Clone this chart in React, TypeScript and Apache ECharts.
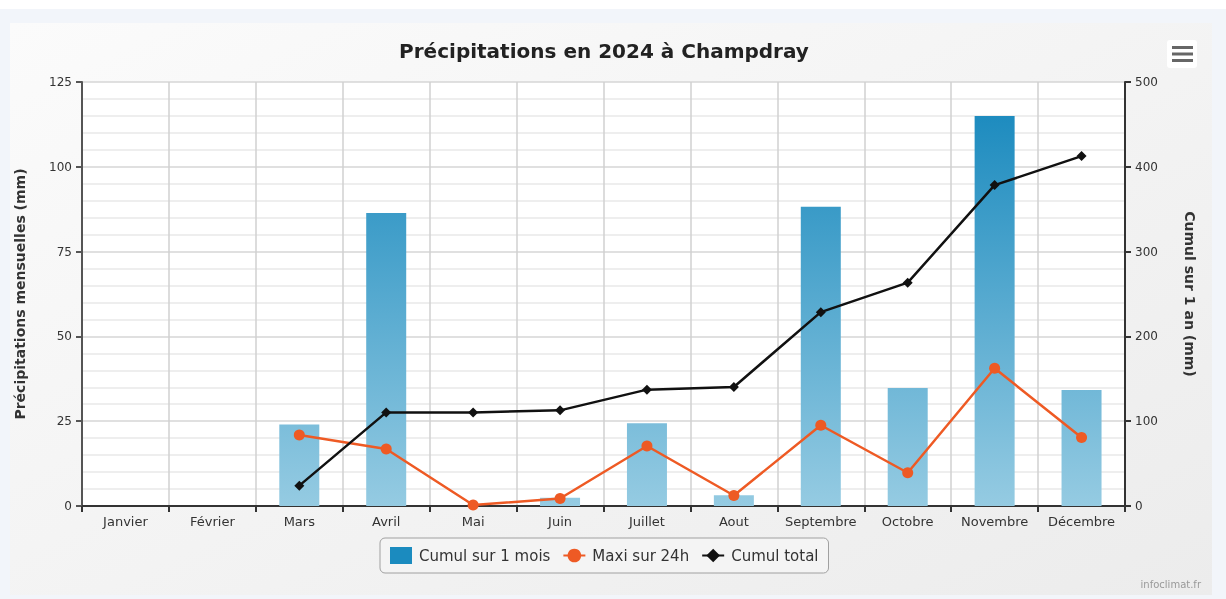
import React, { useEffect, useRef } from "react";
import * as echarts from "echarts";

const months = ["Janvier", "Février", "Mars", "Avril", "Mai", "Juin", "Juillet", "Aout", "Septembre", "Octobre", "Novembre", "Décembre"];
const cumulMois = [null, null, 24, 86.4, 0, 2.4, 24.4, 3.2, 88.2, 34.8, 115, 34.2];
const maxi24h = [null, null, 20.9, 16.8, 0.3, 2.2, 17.7, 3.1, 23.8, 9.8, 40.6, 20.2];
const cumulTotal = [null, null, 24, 110.4, 110.4, 112.8, 137.2, 140.4, 228.6, 263.4, 378.4, 412.6];
const leftTicks = { min: 0, max: 125, interval: 25 };
const rightTicks = { min: 0, max: 500, interval: 100 };

const FONT = "DejaVu Sans";

export default function App() {
  const ref = useRef<HTMLDivElement>(null);
  useEffect(() => {
    if (!ref.current) return;
    const chart = echarts.init(ref.current, null, { renderer: "svg" });
    const plotTop = 82;
    const plotBottom = 506;
    chart.setOption({
      animation: false,
      textStyle: { fontFamily: FONT },
      graphic: [
        { type: "rect", silent: true, z: -10, shape: { x: 0, y: 9, width: 1226, height: 590 }, style: { fill: "#f2f5fa" } },
        {
          type: "rect", silent: true, z: -9,
          shape: { x: 10, y: 23, width: 1202, height: 572 },
          style: { fill: new echarts.graphic.LinearGradient(0, 0, 1, 1, [{ offset: 0, color: "#fbfbfb" }, { offset: 1, color: "#ececec" }]) },
        },
        { type: "rect", silent: true, z: -8, shape: { x: 82, y: 82, width: 1043, height: 424 }, style: { fill: "#ffffff" } },
        {
          type: "group",
          children: [
            { type: "rect", shape: { x: 1167, y: 40, width: 30, height: 28, r: 3 }, style: { fill: "#ffffff" } },
            { type: "rect", shape: { x: 1172, y: 46, width: 21, height: 3 }, style: { fill: "#666666" } },
            { type: "rect", shape: { x: 1172, y: 52.5, width: 21, height: 3 }, style: { fill: "#666666" } },
            { type: "rect", shape: { x: 1172, y: 59, width: 21, height: 3 }, style: { fill: "#666666" } },
          ],
        },
        {
          type: "text", x: 1201, y: 584,
          style: { text: "infoclimat.fr", fill: "#999999", fontSize: 10, fontFamily: FONT, align: "right", verticalAlign: "middle" },
        },
      ],
      title: {
        text: "Précipitations en 2024 à Champdray",
        left: 599,
        top: 36,
        textAlign: "center",
        textStyle: { fontSize: 20, fontWeight: "bold", color: "#222222", fontFamily: FONT },
      },
      legend: {
        left: 380,
        top: 538,
        data: [
          { name: "Cumul sur 1 mois", icon: "path://M0,0H22V17H0Z", itemStyle: { color: "#1b8bbf" } },
          { name: "Maxi sur 24h" },
          { name: "Cumul total" },
        ],
        itemWidth: 22,
        itemHeight: 17,
        itemGap: 12,
        padding: [9, 10],
        borderColor: "#a0a0a0",
        borderWidth: 1,
        borderRadius: 5,
        backgroundColor: "#f4f4f4",
        textStyle: { fontSize: 15, color: "#333333", fontFamily: FONT, padding: [0, 0, 0, 2] },
      },
      grid: { left: 82, right: 101, top: plotTop, bottom: 599 - plotBottom, containLabel: false },
      xAxis: {
        type: "category",
        data: months,
        boundaryGap: true,
        axisLine: { lineStyle: { color: "#333333", width: 2 } },
        axisTick: { show: true, interval: 0, length: 6, lineStyle: { color: "#333333", width: 2 } },
        axisLabel: { interval: 0, color: "#333333", fontSize: 13, margin: 9, fontFamily: FONT },
        splitLine: { show: true, interval: 0, lineStyle: { color: "#d0d0d0", width: 1.5 } },
      },
      yAxis: [
        {
          type: "value",
          ...leftTicks,
          name: "Précipitations mensuelles (mm)",
          nameLocation: "middle",
          nameRotate: 90,
          nameGap: 55,
          nameTextStyle: { fontSize: 14, fontWeight: "bold", color: "#333333", fontFamily: FONT },
          axisLine: { show: true, lineStyle: { color: "#555555", width: 2 } },
          axisTick: { show: true, length: 6, lineStyle: { color: "#555555", width: 2 } },
          axisLabel: { color: "#333333", fontSize: 12, margin: 10, fontFamily: FONT },
          splitLine: { show: true, lineStyle: { color: "#d6d6d6", width: 1.5 } },
          minorTick: { show: false, splitNumber: 5 },
          minorSplitLine: { show: true, lineStyle: { color: "#e8e8e8", width: 1.5 } },
        },
        {
          type: "value",
          ...rightTicks,
          position: "right",
          name: "Cumul sur 1 an (mm)",
          nameLocation: "middle",
          nameRotate: -90,
          nameGap: 58,
          nameTextStyle: { fontSize: 14, fontWeight: "bold", color: "#333333", fontFamily: FONT },
          axisLine: { show: true, lineStyle: { color: "#333333", width: 2 } },
          axisTick: { show: true, length: 6, lineStyle: { color: "#333333", width: 2 } },
          axisLabel: { color: "#333333", fontSize: 12, margin: 10, fontFamily: FONT },
          splitLine: { show: false },
        },
      ],
      series: [
        {
          name: "Cumul sur 1 mois",
          type: "bar",
          yAxisIndex: 0,
          data: cumulMois,
          barWidth: 40,
          itemStyle: {
            color: new echarts.graphic.LinearGradient(0, plotTop, 0, plotBottom, [
              { offset: 0, color: "#1386bc" },
              { offset: 1, color: "#95cbe2" },
            ], true),
          },
        },
        {
          name: "Maxi sur 24h",
          type: "line",
          yAxisIndex: 0,
          data: maxi24h,
          color: "#ee5a24",
          lineStyle: { color: "#ee5a24", width: 2.5 },
          itemStyle: { color: "#ee5a24" },
          symbol: "circle",
          symbolSize: 11,
          showAllSymbol: true,
          z: 3,
        },
        {
          name: "Cumul total",
          type: "line",
          yAxisIndex: 1,
          data: cumulTotal,
          color: "#111111",
          lineStyle: { color: "#111111", width: 2.5 },
          itemStyle: { color: "#111111" },
          symbol: "diamond",
          symbolSize: 10,
          showAllSymbol: true,
          z: 4,
        },
      ],
    });
    return () => chart.dispose();
  }, []);
  return <div ref={ref} style={{ position: "fixed", left: 0, top: 0, width: 1226, height: 599 }} />;
}
